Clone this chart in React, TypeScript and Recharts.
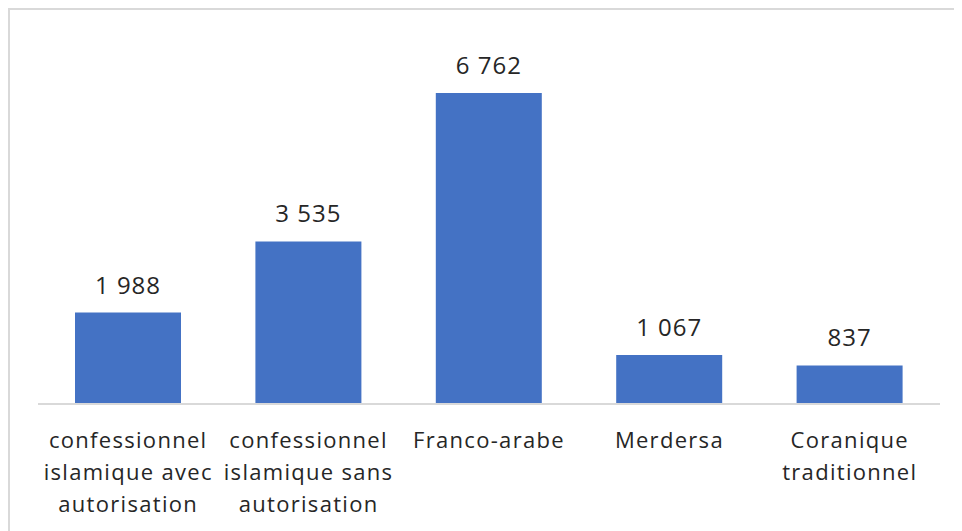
import { BarChart, Bar, XAxis, YAxis, LabelList } from "recharts";

// ─── Data ─────────────────────────────────────────────────────────────────────

const categories = [
  "confessionnel islamique avec autorisation",
  "confessionnel islamique sans autorisation",
  "Franco-arabe",
  "Merdersa",
  "Coranique traditionnel",
];

const effectifs = [1988, 3535, 6762, 1067, 837];

const data = categories.map((name, i) => ({ name, value: effectifs[i] }));

const FONT = "'Open Sans', sans-serif";
const TEXT = "#262626";

// greedy word wrap, ~15 chars per line like the Excel original
function wrap(text: string, max = 15): string[] {
  const lines: string[] = [];
  let cur = "";
  for (const w of text.split(" ")) {
    if (cur && (cur + " " + w).length > max) {
      lines.push(cur);
      cur = w;
    } else {
      cur = cur ? cur + " " + w : w;
    }
  }
  if (cur) lines.push(cur);
  return lines;
}

const fmt = (v: number) => v.toLocaleString("en-US").replace(/,/g, " ");

function CategoryTick(props: any) {
  const { x, y, payload } = props;
  const lines = wrap(String(payload.value));
  return (
    <text
      x={x}
      y={y}
      textAnchor="middle"
      fill={TEXT}
      fontSize={22}
      fontFamily={FONT}
      letterSpacing={1.3}
    >
      {lines.map((l, i) => (
        <tspan key={i} x={x} dy={i === 0 ? 36 : 32}>
          {l}
        </tspan>
      ))}
    </text>
  );
}

// ─── Component ────────────────────────────────────────────────────────────────

export default function App() {
  return (
    <div
      style={{
        width: 952,
        height: 521,
        borderTop: "2px solid #d9d9d9",
        borderLeft: "2px solid #d9d9d9",
        background: "#fff",
      }}
    >
      <BarChart
        width={952}
        height={521}
        data={data}
        margin={{ top: 72, right: 22, bottom: 0, left: 28 }}
        barCategoryGap={37}
      >
        <XAxis
          dataKey="name"
          interval={0}
          height={127}
          axisLine={{ stroke: "#d9d9d9", strokeWidth: 2 }}
          tickLine={false}
          tick={<CategoryTick />}
        />
        <YAxis hide domain={[0, 7000]} />
        <Bar dataKey="value" fill="#4472C4" isAnimationActive={false}>
          <LabelList
            dataKey="value"
            position="top"
            offset={19}
            formatter={(v: any) => fmt(Number(v))}
            fill={TEXT}
            fontSize={24}
            fontFamily={FONT}
            letterSpacing={1}
          />
        </Bar>
      </BarChart>
    </div>
  );
}
